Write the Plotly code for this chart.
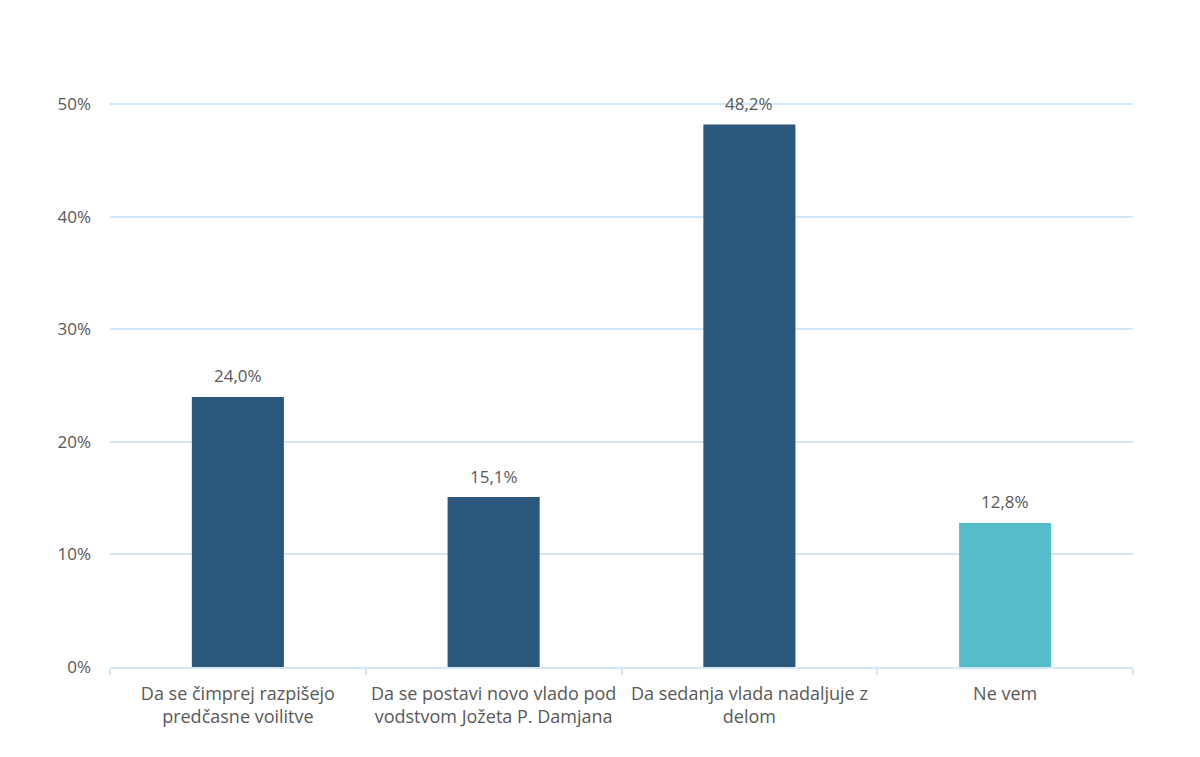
import plotly.graph_objects as go

# ── Data ─────────────────────────────────────────────────────────────────────
categories = [
    "Da se čimprej razpišejo<br>predčasne voilitve",
    "Da se postavi novo vlado pod<br>vodstvom Jožeta P. Damjana",
    "Da sedanja vlada nadaljuje z<br>delom",
    "Ne vem",
]
values = [24.0, 15.1, 48.2, 12.8]
bar_colors = ["#2C577C", "#2C577C", "#2C577C", "#55BCC9"]
y_ticks = [0, 10, 20, 30, 40, 50]
y_tick_labels = ["0%", "10%", "20%", "30%", "40%", "50%"]

label_text = [f"{v:.1f}%".replace(".", ",") for v in values]

FONT = "Open Sans"
GREY = "#595959"
GRID = "#D2E8FA"

fig = go.Figure()

fig.add_trace(go.Bar(
    x=categories,
    y=values,
    marker=dict(color=bar_colors, line=dict(width=0)),
    width=0.36,
    hoverinfo="skip",
))

# value labels above the bars
for cat, val, txt in zip(categories, values, label_text):
    fig.add_annotation(
        x=cat, y=val, text=txt,
        showarrow=False,
        yanchor="middle",
        yshift=21,
        font=dict(family=FONT, size=17, color=GREY),
    )

# ── Layout ───────────────────────────────────────────────────────────────────
# the page adds an 8px body margin, so margins are shifted by that much
fig.update_layout(
    width=1200,
    height=757,
    plot_bgcolor="white",
    paper_bgcolor="white",
    showlegend=False,
    font=dict(family=FONT, size=17, color=GREY),
    margin=dict(l=102, r=75, t=94, b=98),
    xaxis=dict(
        automargin=False,
        showline=True,
        linecolor=GRID,
        linewidth=2,
        ticks="outside",
        tickson="boundaries",
        ticklen=6,
        tickcolor=GRID,
        tickwidth=2,
        ticklabelstandoff=9,
        tickfont=dict(family=FONT, size=18, color=GREY),
        showgrid=False,
    ),
    yaxis=dict(
        automargin=False,
        range=[0, 50.2],
        tickmode="array",
        tickvals=y_ticks,
        ticktext=y_tick_labels,
        showgrid=True,
        gridcolor=GRID,
        gridwidth=2,
        zeroline=False,
        showline=False,
        ticks="",
        ticklabelstandoff=18,
        tickfont=dict(family=FONT, size=17, color=GREY),
    ),
)

fig.write_html("out.html")
